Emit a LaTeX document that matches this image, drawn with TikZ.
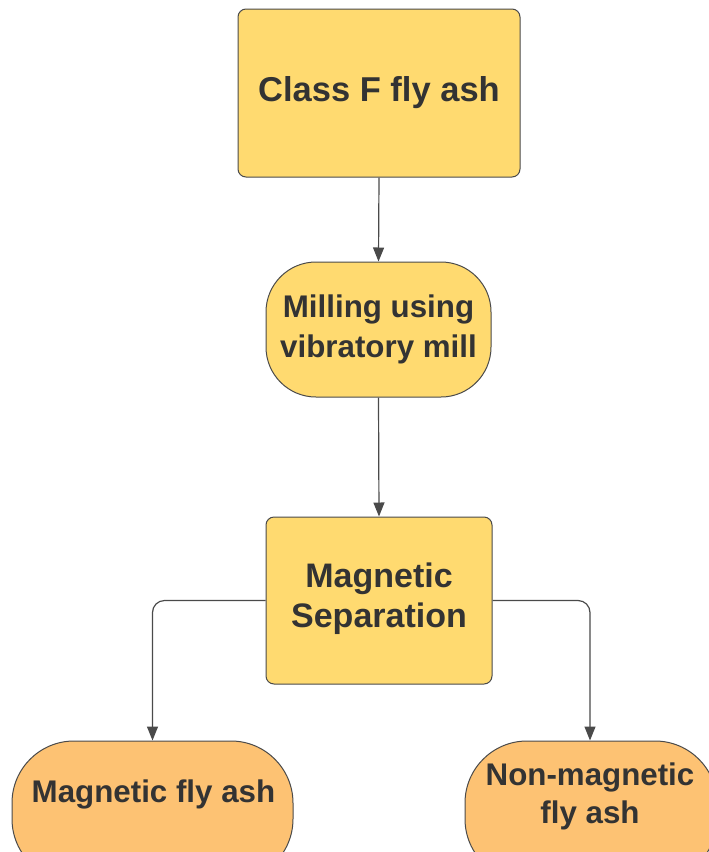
\documentclass[tikz,border=0pt]{standalone}
\usepackage{fontspec}
\setmainfont{Liberation Sans}
\usetikzlibrary{arrows.meta}
\definecolor{boxyellow}{HTML}{FFDA70}
\definecolor{boxorange}{HTML}{FDC273}
\definecolor{edgegray}{HTML}{4A4A4A}
\definecolor{txt}{HTML}{333333}
\begin{document}
\begin{tikzpicture}[x=1pt,y=-1pt,
  base/.style={draw=edgegray,line width=1pt,text=txt,font=\bfseries\fontsize{31}{40}\selectfont,align=center,inner sep=0pt},
  sqbox/.style={base,fill=boxyellow,rounded corners=8pt},
  pill/.style={base,fill=boxyellow,rounded corners=50pt},
  outpill/.style={base,fill=boxorange,rounded corners=62pt},
  lbl/.style={text=txt,font=\bfseries\fontsize{31.3}{38}\selectfont,align=center,inner sep=0pt},
  conn/.style={draw=edgegray,line width=1.2pt,rounded corners=12pt,-{Triangle[length=14pt,width=11pt]}}
]
\useasboundingbox (0,0) rectangle (709,852);
\clip (0,0) rectangle (709,852);
\node[sqbox,minimum width=282pt,minimum height=168pt,font=\bfseries\fontsize{34.5}{40}\selectfont] (a) at (379,93) {Class F fly ash};
\node[pill,minimum width=225pt,minimum height=135pt,font=\bfseries\fontsize{31.3}{40}\selectfont] (b) at (378.5,329.5) {Milling using\\vibratory mill};
\node[sqbox,minimum width=226pt,minimum height=167pt] (c) at (379,600.5) {};
\node[lbl,font=\bfseries\fontsize{34}{40}\selectfont] (ct) at (379,598.5) {Magnetic\\Separation};
\node[outpill,minimum width=281pt,minimum height=140pt] (d) at (152.5,811) {};
\node[outpill,minimum width=252pt,minimum height=140pt] (e) at (591,811) {};
\node[lbl] (dt) at (153.5,794) {Magnetic fly ash};
\node[lbl] (et) at (590,796) {Non-magnetic\\fly ash};
\draw[conn] (a.south) -- (b.north);
\draw[conn] (b.south) -- (c.north);
\draw[conn] (c.west) -| (d.north);
\draw[conn] (c.east) -| ([xshift=-1pt]e.north);
\end{tikzpicture}
\end{document}
